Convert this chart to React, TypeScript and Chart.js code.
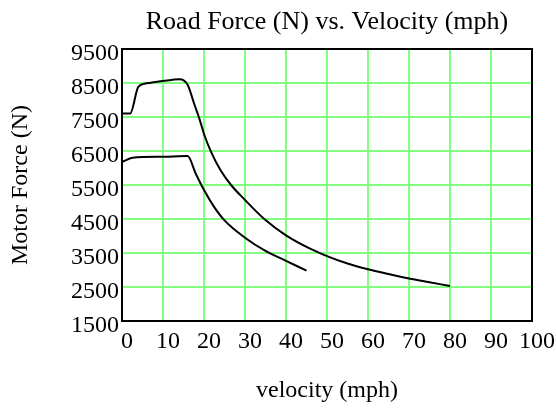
import React, { useEffect, useRef } from "react";
import { Chart, registerables } from "chart.js";

Chart.register(...registerables);

// Upper curve
const upperVelocity = [0, 2, 4, 6.5, 10, 14, 16, 17.6, 19, 20, 21.7, 24, 26.6, 30, 34.7, 40, 46, 50, 55, 60, 65, 70, 75, 80];
const upperForce = [7600, 7600, 8390, 8500, 8560, 8610, 8450, 7890, 7400, 7000, 6480, 5940, 5500, 5060, 4500, 4020, 3620, 3410, 3190, 3020, 2880, 2750, 2640, 2530];

// Lower curve
const lowerVelocity = [0, 2.6, 10, 16, 18, 20, 22.5, 25, 30, 35, 40, 45];
const lowerForce = [6180, 6300, 6330, 6350, 5830, 5350, 4850, 4460, 3950, 3560, 3270, 2980];

const xTicks = [0, 10, 20, 30, 40, 50, 60, 70, 80, 90, 100];
const yTicks = [1500, 2500, 3500, 4500, 5500, 6500, 7500, 8500, 9500];

const chartTitle = "Road Force (N) vs. Velocity (mph)";
const xTitle = "velocity (mph)";
const yTitle = "Motor Force (N)";

const FONT = "'Liberation Serif', 'Times New Roman', serif";

const frame = {
  id: "frame",
  afterDatasetsDraw(chart: any) {
    const { ctx, chartArea } = chart;
    ctx.save();
    ctx.strokeStyle = "#000";
    ctx.lineWidth = 2;
    ctx.strokeRect(chartArea.left, chartArea.top, chartArea.right - chartArea.left, chartArea.bottom - chartArea.top);
    ctx.restore();
  },
};

export default function App() {
  const ref = useRef<HTMLCanvasElement>(null);
  useEffect(() => {
    if (!ref.current) return;
    const pts = (xs: number[], ys: number[]) => xs.map((x, i) => ({ x, y: ys[i] }));
    const chart = new Chart(ref.current, {
      type: "line",
      data: {
        datasets: [
          {
            data: pts(upperVelocity, upperForce),
            borderColor: "#000",
            borderWidth: 2,
            pointRadius: 0,
            cubicInterpolationMode: "monotone",
            fill: false,
          },
          {
            data: pts(lowerVelocity, lowerForce),
            borderColor: "#000",
            borderWidth: 2,
            pointRadius: 0,
            cubicInterpolationMode: "monotone",
            fill: false,
          },
        ],
      },
      options: {
        animation: false,
        responsive: false,
        layout: { padding: { left: 0, right: 24, top: 0, bottom: 0 } },
        plugins: {
          legend: { display: false },
          tooltip: { enabled: false },
          title: {
            display: true,
            text: chartTitle,
            fullSize: false,
            color: "#000",
            font: { family: FONT, size: 26, weight: "normal" },
            padding: { top: 7, bottom: 10.8 },
          },
        },
        scales: {
          x: {
            type: "linear",
            min: 0,
            max: 100,
            afterBuildTicks: (s: any) => {
              s.ticks = xTicks.map((v) => ({ value: v }));
            },
            afterFit: (s: any) => {
              s.height = 89;
            },
            ticks: {
              color: "#000",
              font: { family: FONT, size: 24 },
              padding: 6,
              labelOffset: 5,
              maxRotation: 0,
              autoSkip: false,
              callback: (v: any) => String(v),
            },
            grid: { color: "#80ff80", lineWidth: 2, drawTicks: false },
            border: { color: "#000", width: 2 },
            title: {
              display: true,
              text: xTitle,
              color: "#000",
              font: { family: FONT, size: 24 },
              padding: { top: 0, bottom: 4.6 },
            },
          },
          y: {
            type: "linear",
            min: 1500,
            max: 9500,
            afterBuildTicks: (s: any) => {
              s.ticks = yTicks.map((v) => ({ value: v }));
            },
            afterFit: (s: any) => {
              s.width = 122;
            },
            ticks: {
              color: "#000",
              font: { family: FONT, size: 24 },
              padding: 3,
              labelOffset: 5,
              autoSkip: false,
              callback: (v: any) => String(v),
            },
            grid: { color: "#80ff80", lineWidth: 2, drawTicks: false },
            border: { color: "#000", width: 2 },
            title: {
              display: true,
              text: yTitle,
              color: "#000",
              font: { family: FONT, size: 24 },
              padding: { top: 6.6, bottom: 0 },
            },
          },
        },
      },
      plugins: [frame],
    } as any);
    return () => chart.destroy();
  }, []);
  return (
    <div style={{ position: "absolute", left: 0, top: 0, width: 556, height: 410, background: "#fff" }}>
      <canvas ref={ref} width={556} height={410} />
    </div>
  );
}
